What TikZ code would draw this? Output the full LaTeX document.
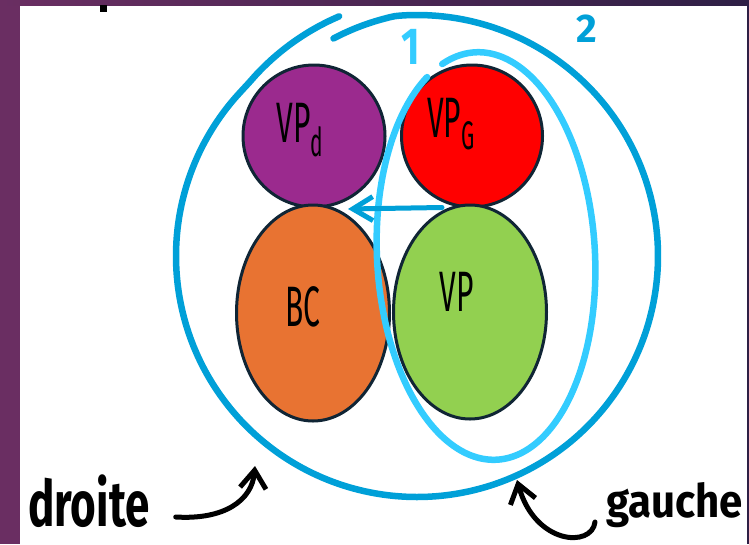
\documentclass[tikz,border=0pt]{standalone}
\usepackage{fontspec}
\setmainfont{Fira Sans}
\usepackage{graphicx}
\usetikzlibrary{shapes.geometric, arrows.meta, positioning}
\usepackage{xcolor}
\definecolor{cadrecolor}{RGB}{106,46,98}
\definecolor{cadrefonce}{RGB}{46,31,69}
\definecolor{vpdcolor}{RGB}{155,42,142}
\definecolor{vpgcolor}{RGB}{255,0,0}
\definecolor{bccolor}{RGB}{232,115,50}
\definecolor{vpcolor}{RGB}{146,208,80}
\definecolor{contour}{RGB}{16,37,53}
\definecolor{bleufonce}{RGB}{0,160,216}
\definecolor{bleuclair}{RGB}{51,204,255}
\tikzset{
    bulle/.style={ellipse, draw=contour, line width=3pt, inner sep=0pt},
    etiquette/.style={font=\fontsize{30}{30}\selectfont, inner sep=0pt},
    legende/.style={font=\fontsize{42}{42}\selectfont\bfseries, inner sep=0pt, anchor=base west},
    numero/.style={font=\fontsize{40}{40}\selectfont\bfseries, inner sep=0pt},
    trait/.style={line width=6.5pt, line cap=round},
    fleche/.style={-{Straight Barb[length=18pt,width=26pt]}, line width=5pt, line cap=round}
}
\newcommand{\etire}[2][1.9]{\scalebox{1}[#1]{#2}}

\begin{document}
\begin{tikzpicture}[x=1pt, y=-1pt]

    \useasboundingbox (0,0) rectangle (749,544);
    \fill[white] (0,0) rectangle (749,544);
    \fill[cadrecolor] (0,0) rectangle (20,544);
    \shade[left color=cadrecolor, right color=cadrefonce] (0,0) rectangle (749,5);
    \fill[cadrefonce] (747,0) rectangle (749,544);
    \fill[black] (100,5) rectangle (107,12);

    \draw[trait, bleufonce, shift={(417,256)}] plot[domain=249:612, samples=140, smooth]
        (\x:{241-8*max(0,(265-\x)/16)+11*max(0,(\x-585)/27)});

    \node[bulle, fill=vpdcolor, minimum width=142pt, minimum height=142pt] (vpd) at (314,136) {};
    \node[bulle, fill=vpgcolor, minimum width=141pt, minimum height=142pt] (vpg) at (472,136) {};
    \node[bulle, fill=bccolor, minimum width=153pt, minimum height=216pt] (bc) at (313,313) {};
    \node[bulle, fill=vpcolor, minimum width=153pt, minimum height=214pt] (vp) at (470,312) {};

    \node[etiquette] (txtvpd) at (300,130) {\etire{VP\textsubscript{d}}};
    \node[etiquette] (txtvpg) at (451,124) {\etire{VP\textsubscript{G}}};
    \node[etiquette] (txtbc) at (303,307) {\etire{BC}};
    \node[etiquette] (txtvp) at (457,292) {\etire{VP}};

    \draw[trait, bleuclair, rotate around={3:(486,256)}] plot[domain=252:603, samples=140, smooth]
        ({486+109*cos(\x)},{256+204*sin(\x)});

    \node[numero, text=bleuclair] (un) at (411,47) {\etire[1.3]{1}};
    \node[numero, text=bleufonce] (deux) at (587,29) {2};

    \coordinate (pointe) at (348,209);
    \draw[fleche, bleufonce, -{Straight Barb[length=20pt,width=24pt]}] ([xshift=-28pt,yshift=-4pt]vp.north) -- (pointe);

    \node[legende, font=\fontsize{44}{44}\selectfont\bfseries] (droite) at (28,526) {\etire[1.45]{droite}};
    \node[legende] (gauche) at (606,517) {\etire[1.1]{gauche}};

    \coordinate (pointed) at (255,466);
    \coordinate (pointeg) at (517,480);
    \draw[fleche] ([xshift=26pt,yshift=9pt]droite.base east) .. controls (225,520) and (252,500) .. (pointed);
    \draw[fleche] ([xshift=-11pt,yshift=-5pt]gauche.base west) .. controls (592,548) and (535,545) .. (pointeg);

\end{tikzpicture}
\end{document}
